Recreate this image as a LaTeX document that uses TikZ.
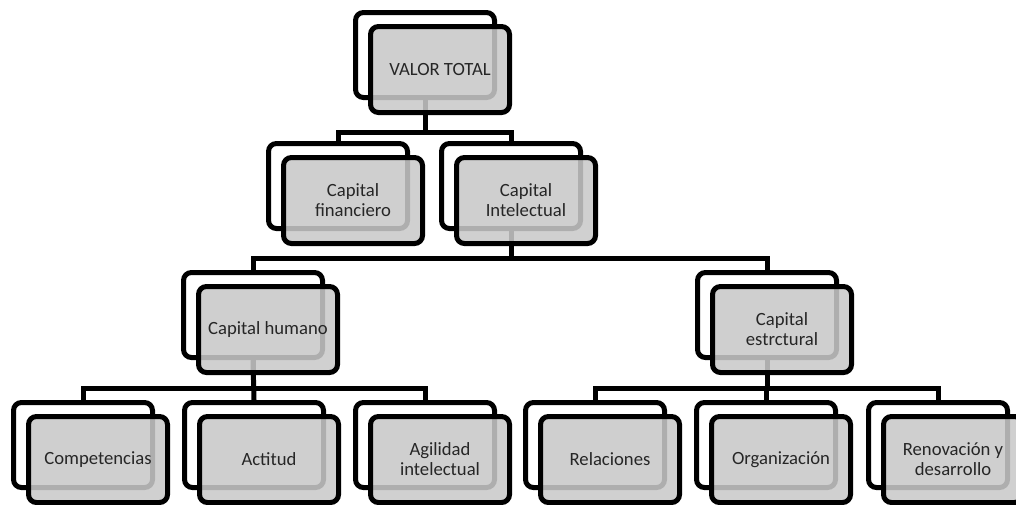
\documentclass[tikz,border=0pt]{standalone}
\usepackage{fontspec}
\setmainfont{Carlito}
\usetikzlibrary{calc}
\definecolor{boxgray}{gray}{0.79}
\begin{document}
\begin{tikzpicture}[x=0.75pt,y=-0.75pt,
 backbox/.style={draw=black, line width=3.75pt, rounded corners=6pt, fill=white,
   minimum width=104.25pt, minimum height=63.75pt, inner sep=0pt},
 frontbox/.style={draw=black, line width=3.75pt, rounded corners=6pt, fill=boxgray,
   fill opacity=0.87, text opacity=1, draw opacity=1,
   minimum width=104.25pt, minimum height=64.5pt, inner sep=0pt, align=center,
   font=\fontsize{14}{15}\selectfont, text=black!85},
 link/.style={draw=black, line width=3.75pt}]
\useasboundingbox (0,0) rectangle (1016,504);
\clip (0,0) rectangle (1016,504);
% back frames
\node[backbox] (vtB) at (425,55) {};
\node[backbox] (cfB) at (338,186) {};
\node[backbox] (ciB) at (511,186) {};
\node[backbox] (chB) at (253,315) {};
\node[backbox] (ceB) at (767,315) {};
\node[backbox] (coB) at (83,445) {};
\node[backbox] (acB) at (254,445) {};
\node[backbox] (agB) at (425,445) {};
\node[backbox] (reB) at (595,445) {};
\node[backbox] (orB) at (766,445) {};
\node[backbox] (rdB) at (938,445) {};
% bar levels
\coordinate (bar1) at (0,132);
\coordinate (bar2) at (0,258);
\coordinate (bar3) at (0,388);
% connectors
\draw[link] (vtB.south) -- (vtB.south |- bar1) -| (cfB.north);
\draw[link] (vtB.south) -- (vtB.south |- bar1) -| (ciB.north);
\draw[link] (ciB.south) -- (ciB.south |- bar2) -| (chB.north);
\draw[link] (ciB.south) -- (ciB.south |- bar2) -| (ceB.north);
\draw[link] (chB.south) -- (chB.south |- bar3) -| (coB.north);
\draw[link] (chB.south) -- (acB.north);
\draw[link] (chB.south) -- (chB.south |- bar3) -| (agB.north);
\draw[link] (ceB.south) -- (ceB.south |- bar3) -| (reB.north);
\draw[link] (ceB.south) -- (ceB.south |- bar3) -| (orB.north);
\draw[link] (ceB.south) -- (ceB.south |- bar3) -| (rdB.north);
% front boxes
\node[frontbox] (vt) at ($(vtB)+(15,14.5)$) {VALOR TOTAL};
\node[frontbox] (cf) at ($(cfB)+(15,14.5)$) {Capital\\financiero};
\node[frontbox] (ci) at ($(ciB)+(15,14.5)$) {Capital\\Intelectual};
\node[frontbox] (ch) at ($(chB)+(15,14.5)$) {Capital humano};
\node[frontbox] (ce) at ($(ceB)+(15,14.5)$) {Capital\\estrctural};
\node[frontbox] (co) at ($(coB)+(15,14.5)$) {Competencias};
\node[frontbox] (ac) at ($(acB)+(15,14.5)$) {Actitud};
\node[frontbox] (ag) at ($(agB)+(15,14.5)$) {Agilidad\\intelectual};
\node[frontbox] (re) at ($(reB)+(15,14.5)$) {Relaciones};
\node[frontbox] (or) at ($(orB)+(15,14.5)$) {Organización};
\node[frontbox] (rd) at ($(rdB)+(15,14.5)$) {Renovación y\\desarrollo};
\end{tikzpicture}
\end{document}
